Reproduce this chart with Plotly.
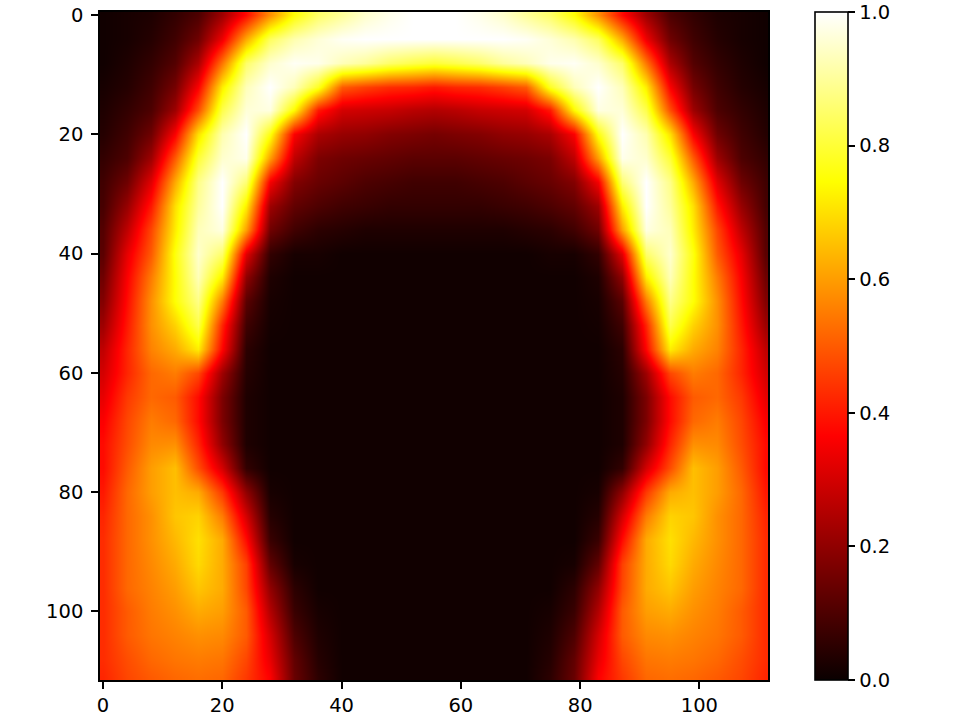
import plotly.graph_objects as go

columns_left = [0, 4, 8, 12, 16, 20, 24, 28, 32, 36, 40, 44, 48, 52, 55.5]
rows = [0, 4, 8, 12, 16, 20, 24, 28, 32, 36, 40, 44, 48, 52, 56, 60, 64, 68, 72, 76,
        80, 84, 88, 92, 96, 100, 104, 108, 111]
values_left = [
    [.01, .02, .03, .06, .10, .22, .38, .58, .75, .85, .90, .95, .98, 1.0, 1.0],
    [.01, .02, .04, .08, .15, .34, .62, .84, .92, .96, .99, 1.0, 1.0, 1.0, 1.0],
    [.01, .03, .06, .11, .24, .54, .85, .95, .99, .98, .93, .90, .85, .82, .80],
    [.02, .04, .08, .16, .36, .72, .93, 1.0, .93, .78, .50, .46, .43, .42, .40],
    [.03, .06, .10, .22, .48, .82, .96, .97, .74, .40, .30, .29, .28, .26, .25],
    [.04, .08, .15, .36, .70, .92, 1.0, .76, .36, .24, .21, .20, .18, .17, .16],
    [.06, .10, .22, .50, .80, .95, .98, .60, .27, .17, .15, .14, .13, .12, .12],
    [.08, .15, .32, .62, .88, 1.0, .86, .35, .18, .14, .12, .10, .09, .08, .08],
    [.09, .21, .40, .70, .90, 1.0, .72, .22, .13, .10, .08, .07, .06, .06, .06],
    [.11, .27, .47, .72, .93, .97, .60, .15, .08, .05, .04, .03, .03, .03, .03],
    [.12, .33, .50, .76, .95, .85, .32, .06, .02, .02, .01, .01, .01, .01, .01],
    [.15, .36, .55, .75, .93, .72, .20, .03, .01, .01, .01, .01, .01, .01, .01],
    [.18, .38, .58, .75, .88, .55, .12, .02, .01, .01, .01, .01, .01, .01, .01],
    [.22, .40, .58, .68, .82, .42, .08, .015, .01, .01, .01, .01, .01, .01, .01],
    [.27, .42, .56, .62, .72, .37, .05, .01, .01, .01, .01, .01, .01, .01, .01],
    [.30, .42, .52, .55, .47, .22, .04, .01, .01, .01, .01, .01, .01, .01, .01],
    [.33, .45, .52, .50, .38, .17, .03, .01, .01, .01, .01, .01, .01, .01, .01],
    [.36, .47, .55, .52, .38, .17, .03, .01, .01, .01, .01, .01, .01, .01, .01],
    [.38, .48, .57, .58, .42, .20, .03, .01, .01, .01, .01, .01, .01, .01, .01],
    [.38, .50, .60, .65, .48, .30, .06, .01, .01, .01, .01, .01, .01, .01, .01],
    [.40, .52, .60, .65, .62, .45, .20, .02, .01, .01, .01, .01, .01, .01, .01],
    [.42, .52, .58, .66, .68, .55, .30, .04, .01, .01, .01, .01, .01, .01, .01],
    [.43, .52, .58, .64, .70, .62, .38, .07, .01, .01, .01, .01, .01, .01, .01],
    [.43, .52, .57, .62, .69, .62, .46, .13, .02, .01, .01, .01, .01, .01, .01],
    [.43, .52, .56, .60, .66, .62, .47, .20, .05, .01, .01, .01, .01, .01, .01],
    [.43, .50, .55, .58, .62, .60, .50, .25, .07, .02, .01, .01, .01, .01, .01],
    [.43, .50, .54, .56, .58, .57, .50, .30, .10, .03, .01, .01, .01, .01, .01],
    [.43, .48, .52, .54, .55, .54, .47, .33, .13, .04, .01, .01, .01, .01, .01],
    [.42, .47, .50, .52, .53, .52, .45, .36, .14, .05, .01, .01, .01, .01, .01],
]
axis_ticks = [0, 20, 40, 60, 80, 100]
colorbar_ticks = [0.0, 0.2, 0.4, 0.6, 0.8, 1.0]

# the picture is left/right symmetric about its centre
columns = columns_left + [111 - c for c in reversed(columns_left)]
z = [r + r[::-1] for r in values_left]

hot = [[0, "rgb(10,0,0)"], [0.365, "rgb(255,0,0)"], [0.746, "rgb(255,255,0)"], [1, "rgb(255,255,255)"]]
FONT = dict(family="DejaVu Sans", size=19.5, color="black")

fig = go.Figure(go.Heatmap(
    x=columns, y=rows, z=z, zmin=0, zmax=1, zsmooth="best", colorscale=hot, hoverinfo="skip",
    colorbar=dict(
        x=(815 - 100) / 668, xanchor="left", xref="paper", y=0, yanchor="bottom", yref="paper",
        len=1, lenmode="fraction", thickness=33, thicknessmode="pixels",
        outlinecolor="black", outlinewidth=1.6, xpad=0, ypad=0,
        tickmode="array", tickvals=colorbar_ticks, tickformat=".1f",
        ticks="outside", ticklen=7, tickwidth=1.6, tickcolor="black", tickfont=FONT,
    ),
))
axis = dict(tickmode="array", tickvals=axis_ticks, ticks="outside", ticklen=7, tickwidth=1.6,
            tickcolor="black", showgrid=False, zeroline=False, showline=True, linecolor="black",
            linewidth=1.6, mirror=True, tickfont=FONT, constrain="domain")
fig.update_xaxes(range=[-0.5, 111.5], ticklabelstandoff=0, **axis)
fig.update_yaxes(range=[111.5, -0.5], ticklabelstandoff=4, **axis)
fig.update_layout(width=960, height=720, autosize=False, paper_bgcolor="white", plot_bgcolor="white",
                  margin=dict(l=100, r=192, t=12, b=40, autoexpand=False))
fig.write_html("out.html", config={"displayModeBar": False}, post_script="document.body.style.margin='0';")
